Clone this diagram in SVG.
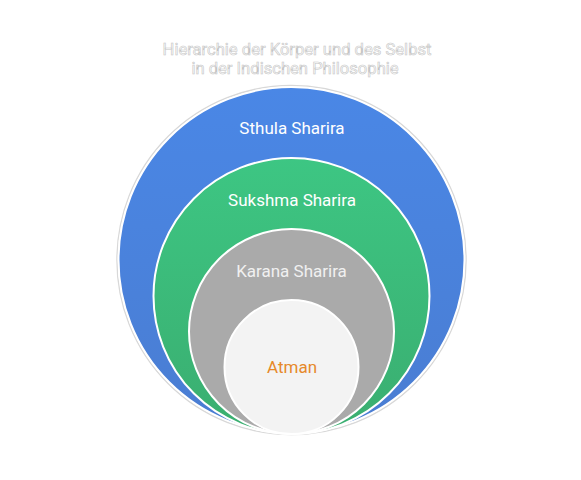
<svg xmlns="http://www.w3.org/2000/svg" width="581" height="480" viewBox="0 0 581 480">
<defs>
<linearGradient id="gBlue" x1="0" y1="0" x2="0" y2="1">
<stop offset="0" stop-color="#4a87e6"/>
<stop offset="1" stop-color="#4a7dd2"/>
</linearGradient>
<linearGradient id="gGreen" x1="0" y1="0" x2="0" y2="1">
<stop offset="0" stop-color="#3dc683"/>
<stop offset="1" stop-color="#3aae70"/>
</linearGradient>
</defs>
<style>
.ring{stroke:#ffffff;stroke-width:2}
.lbl{font-family:Roboto,"Liberation Sans",sans-serif;font-size:17px;text-anchor:middle}
.title{font-family:Roboto,"Liberation Sans",sans-serif;font-size:16.6px;text-anchor:middle;fill:#ffffff;stroke:#c4c4c4;stroke-width:0.6}
</style>
<rect width="581" height="480" fill="#ffffff"/>
<g id="title">
<text class="title" x="297" y="55">Hierarchie der Körper und des Selbst</text>
<text class="title" x="295" y="74">in der Indischen Philosophie</text>
</g>
<g id="sthula">
<circle cx="291.5" cy="260" r="174.5" fill="none" stroke="#d8d8d8" stroke-width="1.5"/>
<circle class="ring" cx="291.5" cy="260" r="173" fill="url(#gBlue)"/>
<text class="lbl" x="292" y="134" fill="#ffffff">Sthula Sharira</text>
</g>
<g id="sukshma">
<circle class="ring" cx="291.5" cy="296" r="138" fill="url(#gGreen)"/>
<text class="lbl" x="292" y="206" fill="#ffffff">Sukshma Sharira</text>
</g>
<g id="karana">
<circle class="ring" cx="291.5" cy="331.5" r="102.5" fill="#aaaaaa"/>
<text class="lbl" x="291.5" y="277" fill="#f0f0f0">Karana Sharira</text>
</g>
<g id="atman">
<circle class="ring" cx="291.5" cy="367" r="67" fill="#f3f3f3"/>
<text class="lbl" x="292" y="373" fill="#e6892a">Atman</text>
</g>
<g id="connectors"/>
</svg>
